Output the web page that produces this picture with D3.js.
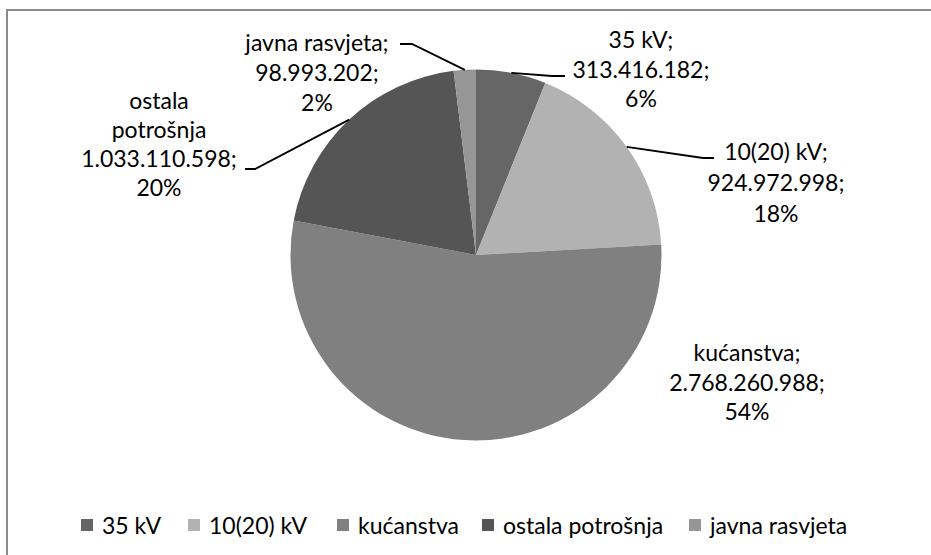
<!DOCTYPE html>
<html>
<head>
<meta charset="utf-8">
<script src="https://cdn.jsdelivr.net/npm/d3@7"></script>
<style>
  html, body { margin: 0; padding: 0; background: #fff; }
  svg { display: block; }
  text { font-family: Lato, "Open Sans", sans-serif; fill: #000; }
</style>
</head>
<body>
<svg id="chart" width="931" height="555"></svg>
<script>
// ---- data ----
const categories = ["35 kV", "10(20) kV", "kućanstva", "ostala potrošnja", "javna rasvjeta"];
const values = [313416182, 924972998, 2768260988, 1033110598, 98993202];
const colors = ["#666666", "#b2b2b2", "#808080", "#555555", "#969696"];
// label name lines as they wrap in the chart
const labelNames = [["35 kV;"], ["10(20) kV;"], ["kućanstva;"], ["ostala", "potrošnja"], ["javna rasvjeta;"]];

// ---- layout ----
const W = 931, H = 555;
const cx = 476, cy = 255, R = 185.5;
const fontSize = 23;
// label block: center x, first-line center y, line step, leader elbow & end points (null = no leader)
const labelLayout = [
  { x: 641, y: 40, step: 29.5, elbow: [552, 76], end: [565, 76] },
  { x: 776, y: 152, step: 31, elbow: [703, 158], end: [714, 158] },
  { x: 747, y: 353, step: 29.5, elbow: null, end: null },
  { x: 159, y: 101, step: 29, elbow: [255, 169], end: [245, 169] },
  { x: 317, y: 43, step: 30, elbow: [412, 44], end: [400, 44] }
];

const svg = d3.select("#chart");

// chart frame
svg.append("rect")
  .attr("x", 7).attr("y", 10)
  .attr("width", W + 10).attr("height", H + 10)
  .attr("fill", "none").attr("stroke", "#8a8a8a").attr("stroke-width", 2);

const total = d3.sum(values);
const locale = d3.formatLocale({ decimal: ",", thousands: ".", grouping: [3], currency: ["", ""] });
const fmtNum = locale.format(",d");
const fmtPct = d3.format(".0%");

const pie = d3.pie().sort(null).value(d => d)(values);
const arc = d3.arc().innerRadius(0).outerRadius(R);

const g = svg.append("g").attr("transform", `translate(${cx},${cy})`);
g.selectAll("path.slice").data(pie).join("path")
  .attr("class", "slice")
  .attr("d", arc)
  .attr("fill", (d, i) => colors[i]);

// leader lines
pie.forEach((d, i) => {
  const L = labelLayout[i];
  if (!L.elbow) return;
  const a = (d.startAngle + d.endAngle) / 2;
  const p0 = [cx + R * Math.sin(a), cy - R * Math.cos(a)];
  svg.append("polyline")
    .attr("points", [p0, L.elbow, L.end].map(p => p.join(",")).join(" "))
    .attr("fill", "none").attr("stroke", "#000").attr("stroke-width", 1.8);
});

// labels
pie.forEach((d, i) => {
  const L = labelLayout[i];
  const lines = labelNames[i].concat([fmtNum(values[i]) + ";", fmtPct(values[i] / total)]);
  const t = svg.append("text")
    .attr("text-anchor", "middle")
    .attr("font-size", fontSize);
  lines.forEach((s, k) => {
    t.append("tspan").attr("x", L.x).attr("y", L.y + k * L.step).attr("dy", "0.35em").text(s);
  });
});

// legend
const legendTextX = [102, 209, 358, 503, 710];
const legY = 526;
const leg = svg.append("g");
categories.forEach((c, i) => {
  leg.append("rect").attr("x", legendTextX[i] - 21).attr("y", legY - 7).attr("width", 12).attr("height", 12).attr("fill", colors[i]);
  leg.append("text").attr("x", legendTextX[i]).attr("y", legY).attr("dy", "0.35em")
    .attr("font-size", 23).text(c);
});
</script>
</body>
</html>
